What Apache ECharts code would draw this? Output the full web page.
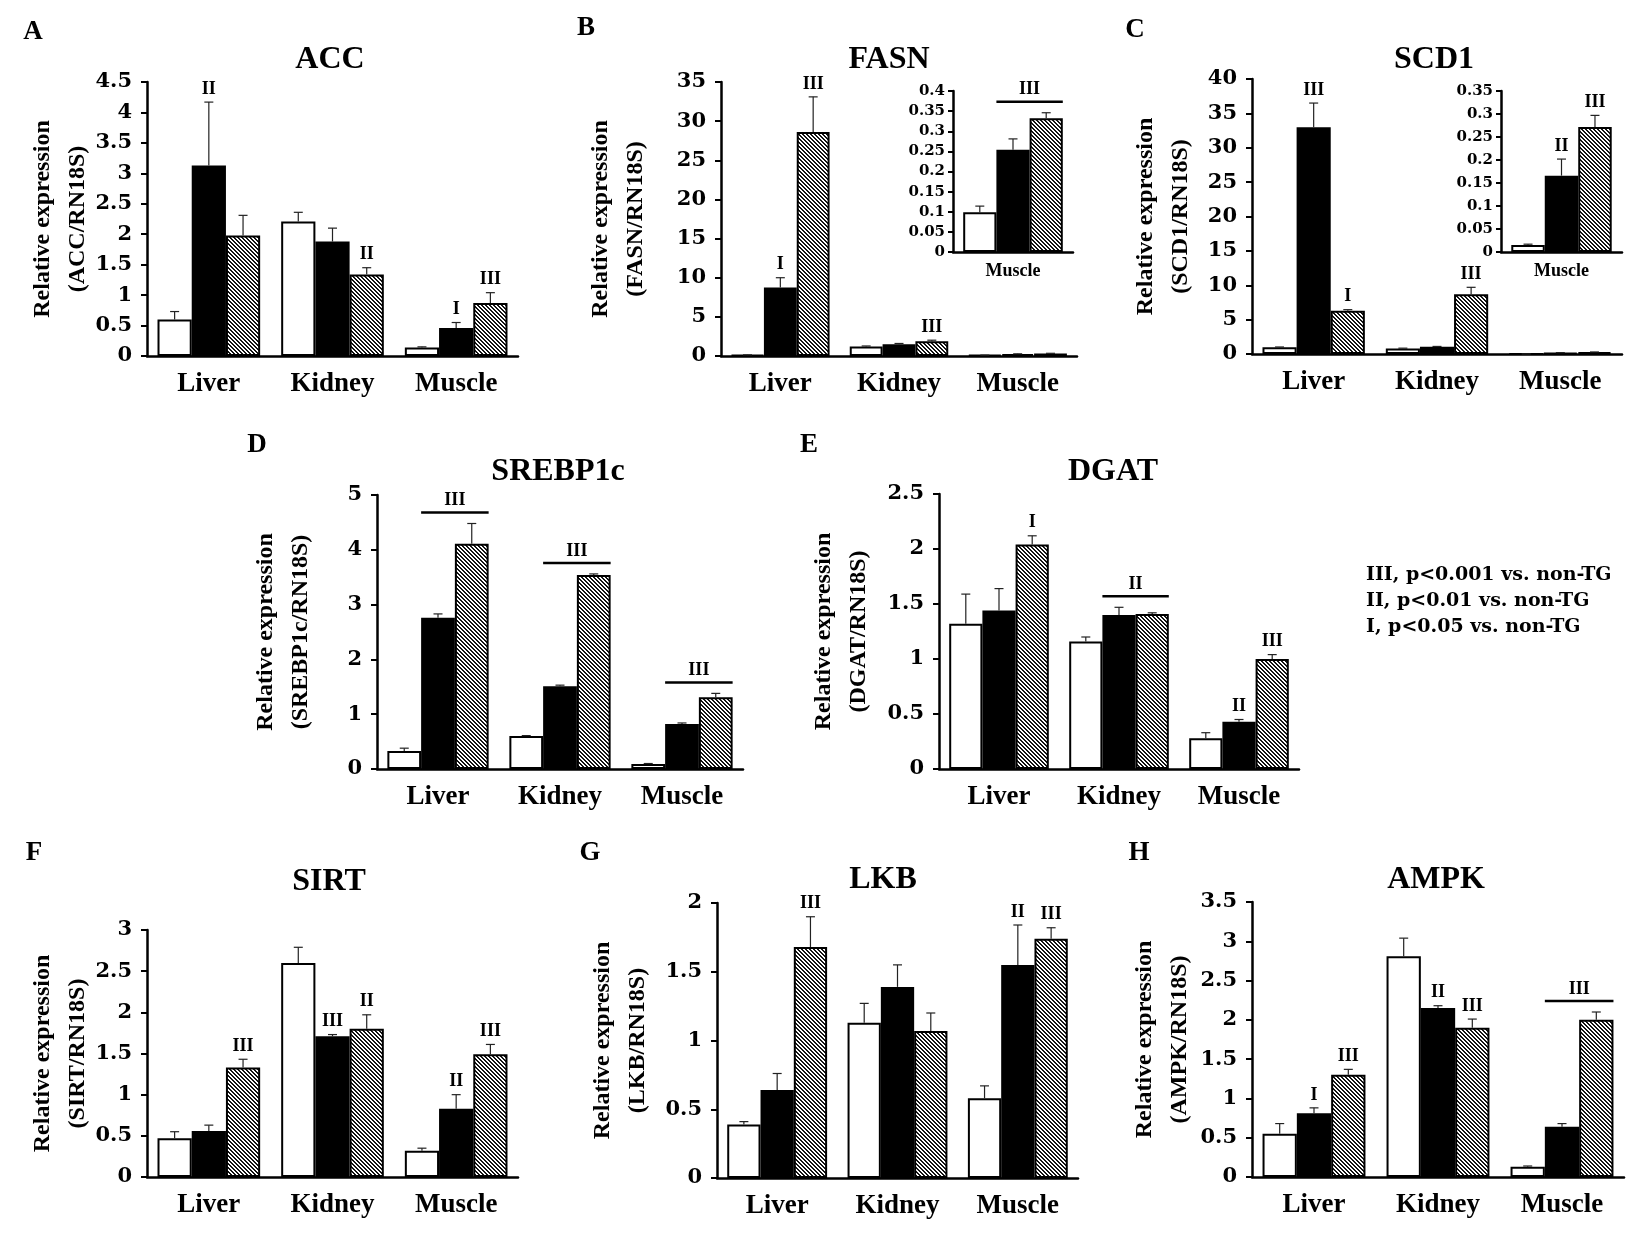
<!DOCTYPE html>
<html><head><meta charset="utf-8">
<script src="https://cdn.jsdelivr.net/npm/echarts@6/dist/echarts.min.js"></script>
<style>html,body{margin:0;padding:0;background:#fff}#c{width:1651px;height:1244px}</style>
</head><body><div id="c"></div>
<script>
// ---------- DATA ----------
const categories = ['Liver', 'Kidney', 'Muscle'];
const insetCategories = ['Muscle'];
const seriesNames = ['Open bars', 'Filled bars', 'Hatched bars'];

// rows: open, filled, hatched ; columns: Liver, Kidney, Muscle
const accMean = [[0.60, 2.21, 0.14], [3.13, 1.88, 0.46], [1.98, 1.34, 0.87]];
const accSE   = [[0.13, 0.15, 0.01], [1.04, 0.22, 0.09], [0.33, 0.11, 0.17]];
const accSig  = [[0, 1, 'II'], [1, 2, 'II'], [2, 1, 'I'], [2, 2, 'III']];

const fasnMean = [[0.10, 1.20, 0.10], [8.76, 1.50, 0.25], [28.6, 1.90, 0.33]];
const fasnSE   = [[0.05, 0.08, 0.015], [1.24, 0.10, 0.03], [4.5, 0.12, 0.015]];
const fasnSig  = [[0, 1, 'I'], [0, 2, 'III'], [1, 2, 'III']];
const fasnMuscleMean = [[0.099], [0.254], [0.332]];
const fasnMuscleSE   = [[0.015], [0.027], [0.014]];
const fasnMuscleBracket = [[0, 'III']];

const scd1Mean = [[0.97, 0.80, 0.015], [33.0, 1.05, 0.166], [6.3, 8.7, 0.272]];
const scd1SE   = [[0.05, 0.05, 0.002], [3.5, 0.05, 0.036], [0.15, 1.0, 0.025]];
const scd1Sig  = [[0, 1, 'III'], [0, 2, 'I'], [1, 2, 'III']];
const scd1MuscleMean = [[0.015], [0.166], [0.272]];
const scd1MuscleSE   = [[0.002], [0.036], [0.025]];
const scd1MuscleSig  = [[0, 1, 'II'], [0, 2, 'III']];

const srebpMean = [[0.33, 0.60, 0.09], [2.76, 1.51, 0.82], [4.11, 3.54, 1.31]];
const srebpSE   = [[0.05, 0.01, 0.01], [0.07, 0.02, 0.02], [0.37, 0.02, 0.07]];
const srebpBracket = [[0, 'III'], [1, 'III'], [2, 'III']];

const dgatMean = [[1.32, 1.16, 0.28], [1.44, 1.40, 0.43], [2.04, 1.41, 1.00]];
const dgatSE   = [[0.27, 0.04, 0.05], [0.20, 0.07, 0.02], [0.08, 0.01, 0.04]];
const dgatSig  = [[0, 2, 'I'], [2, 1, 'II'], [2, 2, 'III']];
const dgatBracket = [[1, 'II']];

const sirtMean = [[0.47, 2.60, 0.32], [0.56, 1.71, 0.83], [1.33, 1.80, 1.49]];
const sirtSE   = [[0.08, 0.19, 0.03], [0.07, 0.02, 0.17], [0.10, 0.17, 0.12]];
const sirtSig  = [[0, 2, 'III'], [1, 1, 'III'], [1, 2, 'II'], [2, 1, 'II'], [2, 2, 'III']];

const lkbMean = [[0.39, 1.13, 0.58], [0.64, 1.39, 1.55], [1.68, 1.07, 1.74]];
const lkbSE   = [[0.02, 0.14, 0.09], [0.12, 0.16, 0.29], [0.22, 0.13, 0.08]];
const lkbSig  = [[0, 2, 'III'], [2, 1, 'II'], [2, 2, 'III']];

const ampkMean = [[0.55, 2.81, 0.13], [0.81, 2.15, 0.64], [1.30, 1.90, 2.00]];
const ampkSE   = [[0.13, 0.23, 0.01], [0.07, 0.03, 0.04], [0.07, 0.11, 0.10]];
const ampkSig  = [[0, 1, 'I'], [0, 2, 'III'], [1, 1, 'II'], [1, 2, 'III']];
const ampkBracket = [[2, 'III']];

const legendLines = ['III, p<0.001 vs. non-TG', 'II, p<0.01 vs. non-TG', 'I, p<0.05 vs. non-TG'];

// ---------- STYLE / LAYOUT ----------
const GAP = 0.17;
const SERIF = '"Liberation Serif", "Times New Roman", serif';
const WIDE = '"DejaVu Serif", serif';

function hatchCanvas() {
  const c = document.createElement('canvas');
  c.width = 4; c.height = 4;
  const ctx = c.getContext('2d');
  const img = ctx.createImageData(4, 4);
  for (let y = 0; y < 4; y++) for (let x = 0; x < 4; x++) {
    const on = ((x - y + 8) % 4) < 2;
    const v = on ? 20 : 255;
    const i = (y * 4 + x) * 4;
    img.data[i] = v; img.data[i + 1] = v; img.data[i + 2] = v; img.data[i + 3] = 255;
  }
  ctx.putImageData(img, 0, 0);
  return c;
}
const hatch = { image: hatchCanvas(), repeat: 'repeat' };
const fills = ['#ffffff', '#000000', hatch];

const panels = [
  { letter: 'A', title: 'ACC', cats: categories, mean: accMean, se: accSE, sig: accSig, brk: [], max: 4.5, step: 0.5,
    grid: { left: 147, top: 82, width: 371, height: 274 }, nameGap: 52, tpos: [330, 60], lpos: [33, 32] },
  { letter: 'B', title: 'FASN', cats: categories, mean: fasnMean, se: fasnSE, sig: fasnSig, brk: [], max: 35, step: 5,
    grid: { left: 721, top: 82, width: 356, height: 274 }, nameGap: 68, tpos: [889, 60], lpos: [586, 28] },
  { inset: true, cats: insetCategories, mean: fasnMuscleMean, se: fasnMuscleSE, sig: [], brk: fasnMuscleBracket, max: 0.4, step: 0.05,
    grid: { left: 953, top: 91, width: 120, height: 161 } },
  { letter: 'C', title: 'SCD1', cats: categories, mean: scd1Mean, se: scd1SE, sig: scd1Sig, brk: [], max: 40, step: 5,
    grid: { left: 1252, top: 79, width: 370, height: 275 }, nameGap: 54, tpos: [1434, 60], lpos: [1135, 30] },
  { inset: true, cats: insetCategories, mean: scd1MuscleMean, se: scd1MuscleSE, sig: scd1MuscleSig, brk: [], max: 0.35, step: 0.05,
    grid: { left: 1501, top: 91, width: 121, height: 161 } },
  { letter: 'D', title: 'SREBP1c', cats: categories, mean: srebpMean, se: srebpSE, sig: [], brk: srebpBracket, max: 5, step: 1,
    grid: { left: 377, top: 495, width: 366, height: 274 }, nameGap: 59, tpos: [558, 472], lpos: [257, 445] },
  { letter: 'E', title: 'DGAT', cats: categories, mean: dgatMean, se: dgatSE, sig: dgatSig, brk: dgatBracket, max: 2.5, step: 0.5,
    grid: { left: 939, top: 494, width: 360, height: 275 }, nameGap: 63, tpos: [1113, 472], lpos: [809, 445] },
  { letter: 'F', title: 'SIRT', cats: categories, mean: sirtMean, se: sirtSE, sig: sirtSig, brk: [], max: 3, step: 0.5,
    grid: { left: 147, top: 930, width: 371, height: 247 }, nameGap: 52, tpos: [329, 882], lpos: [34, 853] },
  { letter: 'G', title: 'LKB', cats: categories, mean: lkbMean, se: lkbSE, sig: lkbSig, brk: [], max: 2, step: 0.5,
    grid: { left: 717, top: 903, width: 361, height: 275 }, nameGap: 62, tpos: [883, 880], lpos: [590, 853] },
  { letter: 'H', title: 'AMPK', cats: categories, mean: ampkMean, se: ampkSE, sig: ampkSig, brk: ampkBracket, max: 3.5, step: 0.5,
    grid: { left: 1252, top: 902, width: 372, height: 275 }, nameGap: 55, tpos: [1436, 880], lpos: [1139, 853] }
];

function barX(api, cat, s) {
  const c = api.coord([cat, 0]);
  const bw = api.size([1, 0])[0] * (1 - GAP) / 3;
  return { x: c[0] + (s - 1) * bw, bw: bw };
}
function errRender(params, api) {
  const cat = api.value(0), s = api.value(1), m = api.value(2), t = api.value(3);
  const p = barX(api, cat, s);
  const y0 = api.coord([cat, m])[1], y1 = api.coord([cat, t])[1];
  const st = { stroke: '#222', lineWidth: 1.2 };
  return { type: 'group', children: [
    { type: 'line', shape: { x1: p.x, y1: y0, x2: p.x, y2: y1 }, style: st },
    { type: 'line', shape: { x1: p.x - 4.5, y1: y1, x2: p.x + 4.5, y2: y1 }, style: st }
  ] };
}
function sigRender(labels) {
  return function (params, api) {
    const cat = api.value(0), s = api.value(1), t = api.value(2);
    const p = barX(api, cat, s);
    const y = api.coord([cat, t])[1];
    return { type: 'text', x: p.x, y: y - 4, style: { text: labels[params.dataIndex], font: 'bold 18px ' + SERIF, fill: '#000', align: 'center', verticalAlign: 'bottom' } };
  };
}
function brkRender(labels) {
  return function (params, api) {
    const cat = api.value(0), t = api.value(1);
    const a = barX(api, cat, 1), b = barX(api, cat, 2);
    const x1 = a.x - a.bw / 2, x2 = b.x + b.bw / 2;
    const y = api.coord([cat, t])[1] - 11;
    return { type: 'group', children: [
      { type: 'line', shape: { x1: x1, y1: y, x2: x2, y2: y }, style: { stroke: '#000', lineWidth: 2.5 } },
      { type: 'text', x: (x1 + x2) / 2, y: y - 3, style: { text: labels[params.dataIndex], font: 'bold 18px ' + SERIF, fill: '#000', align: 'center', verticalAlign: 'bottom' } }
    ] };
  };
}

const option = { backgroundColor: '#fff', animation: false, grid: [], xAxis: [], yAxis: [], series: [], title: [] };

panels.forEach(function (pn, gi) {
  const g = Object.assign({ containLabel: false, outerBoundsMode: 'none' }, pn.grid);
  option.grid.push(g);
  option.xAxis.push({
    type: 'category', gridIndex: gi, data: pn.cats,
    axisLine: { lineStyle: { color: '#000', width: 2.5 } },
    axisTick: { show: false },
    axisLabel: { interval: 0, margin: pn.inset ? 10 : 15, color: '#000', fontFamily: SERIF, fontWeight: 'bold', fontSize: pn.inset ? 18 : 27 }
  });
  option.yAxis.push({
    type: 'value', gridIndex: gi, min: 0, max: pn.max, interval: pn.step,
    splitLine: { show: false },
    axisLine: { show: true, lineStyle: { color: '#000', width: 2.5 } },
    axisTick: { show: true, inside: false, length: pn.inset ? 5 : 6, lineStyle: { color: '#000', width: 2 } },
    axisLabel: { margin: pn.inset ? 8 : 15, color: '#000', fontFamily: WIDE, fontWeight: 'bold', fontSize: pn.inset ? 15 : 21 },
    name: pn.inset ? '' : 'Relative expression\n(' + pn.title + '/RN18S)',
    nameLocation: 'middle', nameRotate: 90, nameGap: pn.nameGap || 0, nameMoveOverlap: false,
    nameTextStyle: { color: '#000', fontFamily: SERIF, fontWeight: 'bold', fontSize: 24, lineHeight: 35 }
  });
  for (let s = 0; s < 3; s++) {
    option.series.push({
      type: 'bar', name: seriesNames[s], xAxisIndex: gi, yAxisIndex: gi,
      data: pn.mean[s], barGap: '0%', barCategoryGap: (GAP * 100) + '%',
      itemStyle: { color: fills[s], borderColor: '#000', borderWidth: 2 },
      silent: true
    });
  }
  const errData = [];
  for (let s = 0; s < 3; s++) for (let c = 0; c < pn.cats.length; c++)
    errData.push([c, s, pn.mean[s][c], pn.mean[s][c] + pn.se[s][c]]);
  option.series.push({ type: 'custom', xAxisIndex: gi, yAxisIndex: gi, renderItem: errRender, data: errData, silent: true, z: 3 });
  if (pn.sig.length) {
    option.series.push({ type: 'custom', xAxisIndex: gi, yAxisIndex: gi, silent: true, z: 4,
      renderItem: sigRender(pn.sig.map(function (d) { return d[2]; })),
      data: pn.sig.map(function (d) { return [d[0], d[1], pn.mean[d[1]][d[0]] + pn.se[d[1]][d[0]]]; }) });
  }
  if (pn.brk.length) {
    option.series.push({ type: 'custom', xAxisIndex: gi, yAxisIndex: gi, silent: true, z: 4,
      renderItem: brkRender(pn.brk.map(function (d) { return d[1]; })),
      data: pn.brk.map(function (d) {
        const c = d[0];
        return [c, Math.max(pn.mean[1][c] + pn.se[1][c], pn.mean[2][c] + pn.se[2][c])];
      }) });
  }
  if (!pn.inset) {
    option.title.push({ text: pn.title, left: pn.tpos[0], top: pn.tpos[1], padding: 0, textAlign: 'center', textVerticalAlign: 'middle',
      textStyle: { fontFamily: SERIF, fontWeight: 'bold', fontSize: 32, color: '#000' } });
    option.title.push({ text: pn.letter, left: pn.lpos[0], top: pn.lpos[1], padding: 0, textAlign: 'center', textVerticalAlign: 'middle',
      textStyle: { fontFamily: SERIF, fontWeight: 'bold', fontSize: 27, color: '#000' } });
  }
});

legendLines.forEach(function (t, i) {
  option.title.push({ text: t, left: 1366, top: 575 + i * 26, padding: 0, textAlign: 'left', textVerticalAlign: 'middle',
    textStyle: { fontFamily: WIDE, fontWeight: 'bold', fontSize: 19, color: '#000' } });
});

const chart = echarts.init(document.getElementById('c'), null, { renderer: 'canvas' });
chart.setOption(option);
</script>
</body></html>
